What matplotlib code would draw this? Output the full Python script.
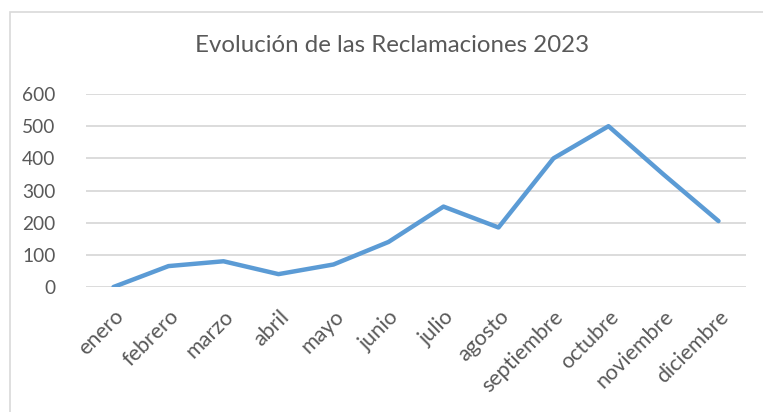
import matplotlib
matplotlib.use("Agg")
import matplotlib.pyplot as plt
from matplotlib.patches import Rectangle

# Data
meses = ["enero", "febrero", "marzo", "abril", "mayo", "junio",
         "julio", "agosto", "septiembre", "octubre", "noviembre", "diciembre"]
reclamaciones = [0, 65, 80, 40, 70, 140, 250, 185, 400, 500, 350, 205]
y_ticks = [0, 100, 200, 300, 400, 500, 600]

plt.rcParams['font.family'] = ['Lato', 'DejaVu Sans']

W, H = 763, 412
fig = plt.figure(figsize=(W / 100, H / 100), dpi=100)

# Plot area in pixels: x 86..746, y 94 (600) .. 287 (0)
ax = fig.add_axes([86 / W, (H - 287) / H, (746 - 86) / W, (287 - 94) / H])

ax.plot(range(len(meses)), reclamaciones, color="#5B9BD5", linewidth=3.2,
        solid_joinstyle="round", solid_capstyle="round", zorder=3)

ax.set_xlim(-0.5, len(meses) - 0.5)
ax.set_ylim(0, 600)
ax.set_yticks(y_ticks)
ax.set_xticks(range(len(meses)))
ax.tick_params(axis="both", length=0, colors="#595959")
ax.tick_params(axis="y", pad=22, labelsize=13.8)
ax.tick_params(axis="x", pad=14)
ax.set_xticklabels(meses, rotation=45, ha="right", va="top",
                   rotation_mode="anchor", fontsize=15.5)

ax.grid(axis="y", color="#D9D9D9", linewidth=1.3, zorder=0)
ax.set_axisbelow(True)
for s in ax.spines.values():
    s.set_visible(False)

fig.text(392 / W, 1 - 46 / H, "Evolución de las Reclamaciones 2023",
         ha="center", va="center", fontsize=17.3, color="#595959")

# chart frame (partly cut off at right and bottom)
frame = Rectangle((10 / W, -0.1), 1.2, 1.1 - 12 / H, transform=fig.transFigure,
                  fill=False, edgecolor="#D9D9D9", linewidth=1.2)
fig.patches.append(frame)

fig.savefig("out.png", dpi=100)
